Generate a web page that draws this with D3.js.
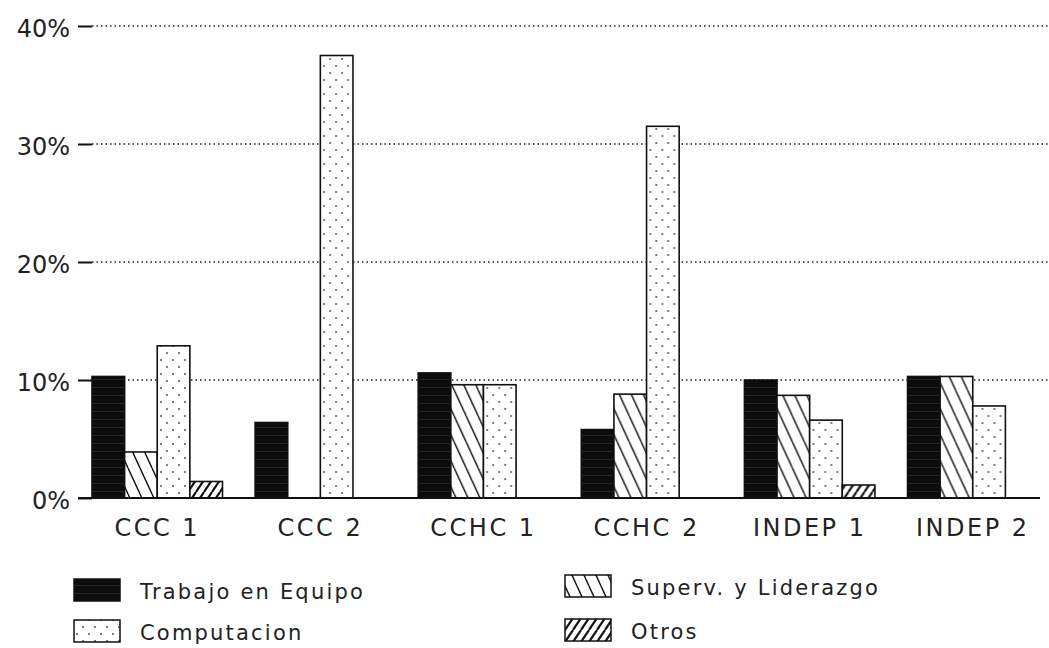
<!DOCTYPE html>
<html>
<head>
<meta charset="utf-8">
<script src="https://cdn.jsdelivr.net/npm/d3@7"></script>
<style>
  body { margin: 0; background: #fff; }
  text { font-family: "DejaVu Sans", sans-serif; fill: #222; }
</style>
</head>
<body>
<svg id="chart" width="1049" height="648"></svg>
<script>
// data (percent)
var groups = ["CCC 1", "CCC 2", "CCHC 1", "CCHC 2", "INDEP 1", "INDEP 2"];
var seriesNames = ["Trabajo en Equipo", "Superv. y Liderazgo", "Computacion", "Otros"];
var trabajo = [10.3, 6.4, 10.6, 5.8, 10.0, 10.3];
var superv = [3.9, 0, 9.6, 8.8, 8.7, 10.3];
var computacion = [12.9, 37.5, 9.6, 31.5, 6.6, 7.8];
var otros = [1.4, 0, 0, 0, 1.1, 0];
var yTicks = [0, 10, 20, 30, 40];

var series = [trabajo, superv, computacion, otros];

var svg = d3.select("#chart");
var width = 1049, height = 648;

svg.append("rect").attr("width", width).attr("height", height).attr("fill", "#fff");

// patterns
var defs = svg.append("defs");

var pSolid = defs.append("pattern").attr("id", "pSolid")
    .attr("patternUnits", "userSpaceOnUse").attr("width", 8).attr("height", 8);
pSolid.append("rect").attr("width", 8).attr("height", 8).attr("fill", "#0c0c0c");
pSolid.append("rect").attr("y", 3).attr("width", 8).attr("height", 1).attr("fill", "#262626");

var pBack = defs.append("pattern").attr("id", "pBack")
    .attr("patternUnits", "userSpaceOnUse").attr("width", 12).attr("height", 26);
pBack.append("rect").attr("width", 12).attr("height", 26).attr("fill", "#fff");
pBack.append("path").attr("d", "M0,0L12,26M-12,0L0,26M12,0L24,26")
    .attr("stroke", "#111").attr("stroke-width", 1.4);

var pDots = defs.append("pattern").attr("id", "pDots")
    .attr("patternUnits", "userSpaceOnUse").attr("width", 12).attr("height", 14);
pDots.append("rect").attr("width", 12).attr("height", 14).attr("fill", "#fff");
pDots.append("circle").attr("cx", 3).attr("cy", 3).attr("r", 1).attr("fill", "#555");
pDots.append("circle").attr("cx", 9).attr("cy", 10).attr("r", 1).attr("fill", "#555");

var pFwd = defs.append("pattern").attr("id", "pFwd")
    .attr("patternUnits", "userSpaceOnUse").attr("width", 8).attr("height", 12);
pFwd.append("rect").attr("width", 8).attr("height", 12).attr("fill", "#fff");
pFwd.append("path").attr("d", "M0,12L8,0M-8,12L0,0M8,12L16,0")
    .attr("stroke", "#111").attr("stroke-width", 2.2);

var fills = ["url(#pSolid)", "url(#pBack)", "url(#pDots)", "url(#pFwd)"];

// scales
var x0 = d3.scaleBand().domain(groups).range([92, 1038]).paddingInner(0.2).paddingOuter(0);
var x1 = d3.scaleBand().domain(d3.range(4)).range([0, x0.bandwidth()]).padding(0);
var y = d3.scaleLinear().domain([0, 40]).range([498, 26]);

// grid
svg.append("g").selectAll("line")
    .data(yTicks.filter(function (d) { return d > 0; }))
    .enter().append("line")
    .attr("x1", 92).attr("x2", 1049)
    .attr("y1", function (d) { return y(d); })
    .attr("y2", function (d) { return y(d); })
    .attr("stroke", "#555").attr("stroke-width", 1.8)
    .attr("stroke-dasharray", "1.5,3");

// y axis
var yAxis = svg.append("g")
    .attr("transform", "translate(92,0)")
    .call(d3.axisLeft(y).tickValues(yTicks).tickSize(14).tickPadding(8)
        .tickFormat(function (d) { return d + "%"; }));
yAxis.select(".domain").remove();
yAxis.selectAll(".tick line").attr("stroke", "#111").attr("stroke-width", 2);
yAxis.selectAll(".tick text").style("font-size", "24px").attr("fill", "#222").attr("dy", "0.42em");

// bars
var g = svg.append("g").selectAll("g")
    .data(groups)
    .enter().append("g")
    .attr("transform", function (d) { return "translate(" + x0(d) + ",0)"; });

g.selectAll("rect")
    .data(function (d, i) { return series.map(function (s, k) { return { k: k, v: s[i] }; }); })
    .enter().append("rect")
    .filter(function (d) { return d.v > 0; })
    .attr("x", function (d) { return x1(d.k); })
    .attr("y", function (d) { return y(d.v); })
    .attr("width", x1.bandwidth())
    .attr("height", function (d) { return y(0) - y(d.v); })
    .attr("fill", function (d) { return fills[d.k]; })
    .attr("stroke", "#111").attr("stroke-width", 1.6);

// baseline
svg.append("line").attr("x1", 78).attr("x2", 1040)
    .attr("y1", y(0)).attr("y2", y(0))
    .attr("stroke", "#111").attr("stroke-width", 2);

// x labels
svg.append("g").selectAll("text")
    .data(groups)
    .enter().append("text")
    .attr("x", function (d) { return x0(d) + x0.bandwidth() / 2; })
    .attr("y", 536)
    .attr("text-anchor", "middle")
    .style("font-size", "24px")
    .style("letter-spacing", "2.5px")
    .text(function (d) { return d; });

// legend
var legendPos = [[74, 590], [565, 586], [74, 631], [565, 630]];
var legendOrder = [0, 1, 2, 3];
var lg = svg.append("g").selectAll("g")
    .data(legendOrder)
    .enter().append("g")
    .attr("transform", function (d) { return "translate(" + legendPos[d][0] + "," + legendPos[d][1] + ")"; });
lg.append("rect").attr("x", 0).attr("y", -11).attr("width", 46).attr("height", 22)
    .attr("fill", function (d) { return fills[d]; })
    .attr("stroke", "#111").attr("stroke-width", 1.5);
lg.append("text").attr("x", 66).attr("y", 9)
    .style("font-size", "21px")
    .style("letter-spacing", "2.2px")
    .text(function (d) { return seriesNames[d]; });
</script>
</body>
</html>
